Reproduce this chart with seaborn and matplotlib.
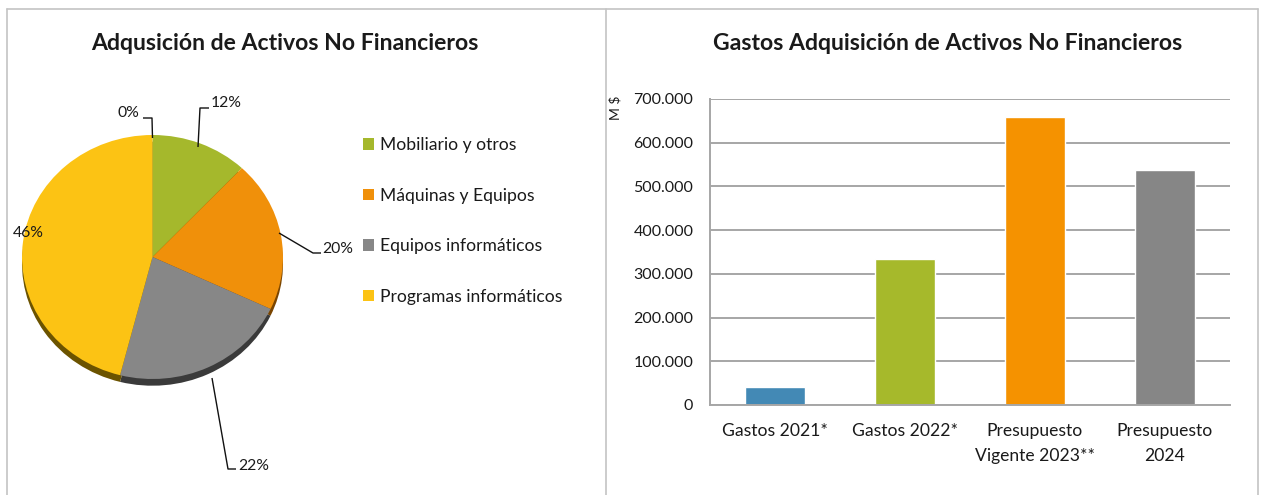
import matplotlib
matplotlib.use("Agg")
import matplotlib.pyplot as plt
from matplotlib.lines import Line2D
from matplotlib.ticker import FuncFormatter
import seaborn as sns
import pandas as pd

# ---- data ----
pie_labels = ["Mobiliario y otros", "Máquinas y Equipos",
              "Equipos informáticos", "Programas informáticos"]
pie_shares = [0, 12, 20, 22, 46]          # first share has no legend entry
pie_colors = ["#a5b82c", "#a5b82c", "#f0900a", "#878787", "#fcc314"]
pie_side = ["#4f5a10", "#4f5a10", "#7a4500", "#3a3a3a", "#6b5300"]

bar_categories = ["Gastos 2021*", "Gastos 2022*",
                  "Presupuesto\nVigente 2023**", "Presupuesto\n2024"]
bar_values = [42000, 334000, 659000, 538000]
bar_colors = ["#4389b5", "#a6b92b", "#f59200", "#868686"]
y_ticks = [0, 100000, 200000, 300000, 400000, 500000, 600000, 700000]

W, H = 1265, 495
sns.set_style("white")
plt.rcParams["font.family"] = ["Lato", "DejaVu Sans"]
TXT = "#1a1a1a"

fig = plt.figure(figsize=(W / 100, H / 100), dpi=100)


def fx(px):
    return px / W


def fy(py):
    return 1 - py / H


# ---- panel frames ----
frame_kw = dict(color="#c4c4c4", lw=1.2, transform=fig.transFigure)
fig.add_artist(Line2D([fx(7), fx(1258)], [fy(9), fy(9)], **frame_kw))
fig.add_artist(Line2D([fx(7), fx(7)], [fy(9), 0], **frame_kw))
fig.add_artist(Line2D([fx(606), fx(606)], [fy(9), 0], **frame_kw))
fig.add_artist(Line2D([fx(1258), fx(1258)], [fy(9), 0], **frame_kw))

# ---- left: pie ----
CX, CY, RX, RY = 152.5, 257.0, 130.5, 122.0
axp = fig.add_axes([0, 0, fx(606), 1])


def px2d(px, py):
    return (px - CX) / RX, (CY - py) / RY


xlim = (px2d(0, 0)[0], px2d(606, 0)[0])
ylim = (px2d(0, H)[1], px2d(0, 0)[1])

axp.pie(pie_shares, colors=pie_side, startangle=90, counterclock=False,
        radius=1, center=(0, -0.055), wedgeprops=dict(linewidth=0))
wedges, _ = axp.pie(pie_shares, colors=pie_colors, startangle=90,
                    counterclock=False, radius=1, center=(0, 0),
                    wedgeprops=dict(linewidth=0))
axp.set_aspect("auto")
axp.set_xlim(*xlim)
axp.set_ylim(*ylim)
axp.axis("off")

# percentage labels with leader lines (pixel positions)
leaders = [
    (0, [(152.5, 138), (152, 118), (143, 118)], (139, 113), "right"),
    (12, [(198, 147), (200, 108), (209, 108)], (211, 103), "left"),
    (20, [(279, 233), (313, 253), (321, 253)], (322, 249), "left"),
    (22, [(212, 378), (228, 469), (236, 469)], (238, 466), "left"),
    (46, None, (13, 233), "left"),
]
for share, pts, (tx, ty), ha in leaders:
    if pts:
        xs, ys = zip(*[px2d(a, b) for a, b in pts])
        axp.plot(xs, ys, color="#111111", lw=1.0, solid_capstyle="butt")
    x, y = px2d(tx, ty)
    axp.text(x, y, f"{share}%", ha=ha, va="center",
             fontsize=11.3, color=TXT)

axp.legend(wedges[1:], pie_labels, loc="center left",
           bbox_to_anchor=(fx(363), fy(221)), bbox_transform=fig.transFigure,
           frameon=False, fontsize=12.6, borderaxespad=0, borderpad=0,
           handlelength=0.62, handleheight=0.62, handletextpad=0.35,
           labelspacing=1.98, labelcolor=TXT)

fig.text(fx(285), fy(43), "Adqusición de Activos No Financieros",
         ha="center", va="center", fontsize=16.6, fontweight="bold", color=TXT)

# ---- right: bars ----
axb = fig.add_axes([fx(710), fy(405), fx(1230) - fx(710), fy(99) - fy(405)])
df = pd.DataFrame({"periodo": bar_categories, "monto": bar_values})
sns.barplot(data=df, x="periodo", y="monto", hue="periodo",
            palette=bar_colors, width=0.46, saturation=1, legend=False,
            ax=axb)
axb.set_xlim(-0.5, 3.5)
axb.set_ylim(0, 700000)
axb.set_yticks(y_ticks)
axb.yaxis.set_major_formatter(
    FuncFormatter(lambda v, _: f"{v:,.0f}".replace(",", ".")))
axb.set_xticks(range(len(bar_categories)), bar_categories, linespacing=1.65)
axb.yaxis.grid(True, color="#a6a6a6", lw=1.4)
axb.set_axisbelow(True)
for side in ("top", "right"):
    axb.spines[side].set_visible(False)
for side in ("left", "bottom"):
    axb.spines[side].set_color("#a6a6a6")
    axb.spines[side].set_linewidth(1.4)
axb.tick_params(axis="y", length=0, pad=12, labelsize=11.5, labelcolor=TXT)
axb.tick_params(axis="x", length=0, pad=13, labelsize=12.6, labelcolor=TXT)
axb.set_xlabel("")
axb.set_ylabel("")

fig.text(fx(615), fy(96), "M $", rotation=90, ha="center", va="top",
         fontsize=10, color=TXT)
fig.text(fx(948), fy(43), "Gastos Adquisición de Activos No Financieros",
         ha="center", va="center", fontsize=16.6, fontweight="bold", color=TXT)

fig.savefig("out.png", dpi=100)
